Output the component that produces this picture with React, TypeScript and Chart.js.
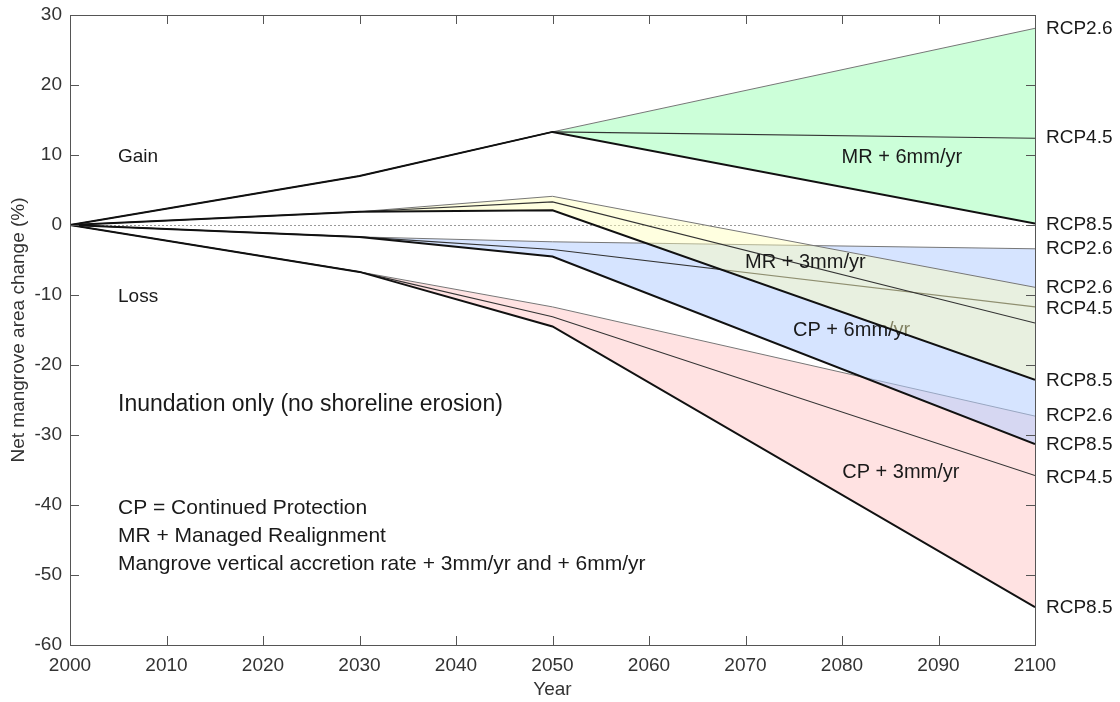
import React, { useEffect, useRef } from 'react';
import Chart from 'chart.js/auto';

// ---- Data (net mangrove area change, %) ----
const years = [2000, 2030, 2050, 2100];

const mr6Rcp26 = [0, 7.0, 13.3, 28.1];
const mr6Rcp45 = [0, 7.0, 13.3, 12.4];
const mr6Rcp85 = [0, 7.0, 13.3, 0.2];

const mr3Rcp26 = [0, 1.9, 4.1, -8.9];
const mr3Rcp45 = [0, 1.9, 3.3, -14.0];
const mr3Rcp85 = [0, 1.9, 2.1, -22.1];

const cp6Rcp26 = [0, -1.7, -2.4, -3.4];
const cp6Rcp45 = [0, -1.7, -3.5, -11.7];
const cp6Rcp85 = [0, -1.7, -4.5, -31.3];

const cp3Rcp26 = [0, -6.7, -11.7, -27.3];
const cp3Rcp45 = [0, -6.7, -13.1, -35.8];
const cp3Rcp85 = [0, -6.7, -14.5, -54.6];

const rightLabels = ['RCP2.6', 'RCP4.5', 'RCP8.5', 'RCP2.6', 'RCP2.6', 'RCP4.5', 'RCP8.5', 'RCP2.6', 'RCP8.5', 'RCP4.5', 'RCP8.5'];
const rightLabelValues = [28.1, 12.4, 0, -3.4, -8.9, -12.0, -22.2, -27.3, -31.4, -36.1, -54.7];

const groupLabels = ['MR + 6mm/yr', 'MR + 3mm/yr', 'CP + 6mm/yr', 'CP + 3mm/yr'];
const groupLabelYears = [2086.2, 2076.2, 2081.0, 2086.1];
const groupLabelValues = [9.7, -5.3, -15.1, -35.3];

const sideNotes = ['Gain', 'Loss'];
const sideNoteValues = [9.8, -10.2];
const notes = [
  'CP = Continued Protection',
  'MR + Managed Realignment',
  'Mangrove vertical accretion rate + 3mm/yr and + 6mm/yr',
];

const FONT = '"Liberation Sans", Arial, Helvetica, sans-serif';
const TEXT = '#1a1a1a';

const pts = (vals: number[]) => vals.map((v, i) => ({ x: years[i], y: v }));

function group(r26: number[], r45: number[], r85: number[], fillColor: string, base: number) {
  return [
    { label: 'RCP8.5', data: pts(r85), borderColor: '#111', borderWidth: 2, fill: false },
    { label: 'RCP4.5', data: pts(r45), borderColor: '#333', borderWidth: 1.1, fill: false },
    {
      label: 'RCP2.6',
      data: pts(r26),
      borderColor: '#777',
      borderWidth: 1,
      fill: base,
      backgroundColor: fillColor,
    },
  ];
}

const decor = {
  id: 'decor',
  beforeDatasetsDraw(chart: any) {
    const { ctx, chartArea: a, scales } = chart;
    const y0 = Math.round(scales.y.getPixelForValue(0)) + 0.5;
    ctx.save();
    ctx.strokeStyle = '#999';
    ctx.lineWidth = 1;
    ctx.setLineDash([2, 2]);
    ctx.beginPath();
    ctx.moveTo(a.left, y0);
    ctx.lineTo(a.right, y0);
    ctx.stroke();
    ctx.restore();
  },
  afterDatasetDraw(chart: any, args: any) {
    if (args.index !== 6) return;
    const { ctx, scales } = chart;
    ctx.save();
    ctx.font = `20px ${FONT}`;
    ctx.fillStyle = TEXT;
    ctx.textAlign = 'center';
    ctx.textBaseline = 'middle';
    ctx.fillText(groupLabels[2], scales.x.getPixelForValue(groupLabelYears[2]), scales.y.getPixelForValue(groupLabelValues[2]));
    ctx.restore();
  },
  afterDatasetsDraw(chart: any) {
    const { ctx, chartArea: a, scales } = chart;
    const xs = scales.x;
    const ys = scales.y;
    ctx.save();
    // frame
    ctx.strokeStyle = '#555';
    ctx.lineWidth = 1;
    ctx.strokeRect(Math.round(a.left) + 0.5, Math.round(a.top) + 0.5, Math.round(a.right - a.left), Math.round(a.bottom - a.top));
    // inward ticks
    const tl = 9;
    ctx.beginPath();
    xs.ticks.forEach((t: any) => {
      const px = Math.round(xs.getPixelForValue(t.value)) + 0.5;
      ctx.moveTo(px, a.bottom);
      ctx.lineTo(px, a.bottom - tl);
      ctx.moveTo(px, a.top);
      ctx.lineTo(px, a.top + tl);
    });
    ys.ticks.forEach((t: any) => {
      const py = Math.round(ys.getPixelForValue(t.value)) + 0.5;
      ctx.moveTo(a.left, py);
      ctx.lineTo(a.left + tl, py);
      ctx.moveTo(a.right, py);
      ctx.lineTo(a.right - tl, py);
    });
    ctx.stroke();

    // texts
    ctx.fillStyle = TEXT;
    ctx.textBaseline = 'middle';
    ctx.textAlign = 'center';
    ctx.font = `20px ${FONT}`;
    [0, 1, 3].forEach((i) => {
      ctx.fillText(groupLabels[i], xs.getPixelForValue(groupLabelYears[i]), ys.getPixelForValue(groupLabelValues[i]));
    });

    ctx.textAlign = 'left';
    const lx = a.left + 48;
    ctx.font = `19px ${FONT}`;
    sideNotes.forEach((s, i) => ctx.fillText(s, lx, ys.getPixelForValue(sideNoteValues[i])));
    ctx.font = `23px ${FONT}`;
    ctx.fillText('Inundation only (no shoreline erosion)', lx, a.top + 390);
    ctx.font = `21px ${FONT}`;
    notes.forEach((n, i) => ctx.fillText(n, lx, a.top + 493 + i * 28));

    // right labels
    ctx.font = `19px ${FONT}`;
    rightLabels.forEach((s, i) => {
      ctx.fillText(s, a.right + 11, ys.getPixelForValue(rightLabelValues[i]));
    });
    ctx.restore();
  },
};

export default function App() {
  const ref = useRef<HTMLCanvasElement | null>(null);
  useEffect(() => {
    if (!ref.current) return;
    const chart = new Chart(ref.current, {
      type: 'line',
      data: {
        datasets: [
          ...group(mr6Rcp26, mr6Rcp45, mr6Rcp85, 'rgb(204,255,217)', 0),
          ...group(mr3Rcp26, mr3Rcp45, mr3Rcp85, 'rgba(255,255,186,0.45)', 3),
          ...group(cp6Rcp26, cp6Rcp45, cp6Rcp85, 'rgba(180,206,255,0.55)', 6),
          ...group(cp3Rcp26, cp3Rcp45, cp3Rcp85, 'rgb(255,226,226)', 9),
        ] as any,
      },
      options: {
        responsive: false,
        animation: false,
        events: [],
        layout: { padding: { top: 15, right: 85, left: 0, bottom: 0 } },
        elements: { point: { radius: 0 }, line: { tension: 0 } },
        plugins: {
          legend: { display: false },
          tooltip: { enabled: false },
          filler: { drawTime: 'beforeDatasetDraw' },
        } as any,
        scales: {
          x: {
            type: 'linear',
            min: 2000,
            max: 2100,
            grid: { display: false, drawTicks: false },
            border: { display: false },
            ticks: {
              stepSize: 10,
              padding: 9,
              color: '#333',
              font: { family: FONT, size: 19 },
              callback: (v: any) => String(v),
            },
            title: {
              display: true,
              text: 'Year',
              color: '#333',
              font: { family: FONT, size: 19 },
              padding: { top: 0, bottom: 1 },
            },
            afterFit: (s: any) => {
              s.height = 57;
              s.paddingLeft = 0;
              s.paddingRight = 0;
            },
          },
          y: {
            min: -60,
            max: 30,
            grid: { display: false, drawTicks: false },
            border: { display: false },
            ticks: {
              stepSize: 10,
              padding: 8,
              color: '#333',
              font: { family: FONT, size: 19 },
            },
            title: {
              display: true,
              text: 'Net mangrove area change (%)',
              color: '#333',
              font: { family: FONT, size: 19 },
              padding: { top: 7, bottom: 0 },
            },
            afterFit: (s: any) => {
              s.width = 70;
              s.paddingTop = 0;
              s.paddingBottom = 0;
            },
          },
        },
      },
      plugins: [decor],
    });
    return () => chart.destroy();
  }, []);
  return (
    <div style={{ position: 'absolute', left: 0, top: 0, width: 1120, height: 702, background: '#fff' }}>
      <canvas ref={ref} width={1120} height={702} style={{ display: 'block' }} />
    </div>
  );
}
